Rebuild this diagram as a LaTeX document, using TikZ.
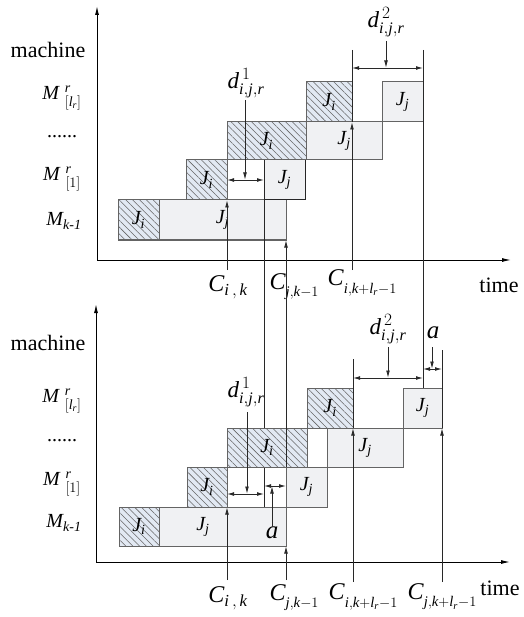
\documentclass[tikz,border=0pt]{standalone}
\usepackage{amsmath}
\usepackage{fontspec}
\setmainfont{Liberation Serif}
\usetikzlibrary{patterns.meta,arrows.meta}
\definecolor{hatchfill}{RGB}{226,233,243}
\definecolor{boxfill}{RGB}{240,241,243}
\definecolor{boxline}{RGB}{100,100,100}
\definecolor{vline}{RGB}{40,40,40}
\newcommand\JI{$\textit{J}_{\textit{i}}$}
\newcommand\JJ{$\textit{J}_{\textit{j}}$}
\newcommand\smallsub[1]{\raisebox{-0.3em}{\fontsize{21}{23}\selectfont$\scriptstyle #1$}}
\newcommand\jobbox[7]{\node[#1, minimum width={(#5-#3)*1pt}, minimum height={(#6-#4)*1pt}] (#2) at ({(#3+#5)/2},{(#4+#6)/2}) {#7};}
\tikzset{
  jb/.style={draw=boxline, line width=1pt, inner sep=0pt, outer sep=0pt, font=\fontsize{20}{23}\selectfont},
  hb/.style={jb, preaction={fill=hatchfill}, pattern={Lines[angle=-45,distance=4.8pt,line width=0.55pt]}, pattern color=black!60},
  gb/.style={jb, fill=boxfill},
  axis/.style={line width=1pt, -{Latex[length=9pt,width=4pt]}},
  vl/.style={draw=vline, line width=0.9pt},
  arr/.style={vl, -{Latex[length=7.5pt,width=3.8pt]}},
  dimline/.style={vl, {Latex[length=7pt,width=3.8pt]}-{Latex[length=7pt,width=3.8pt]}},
  lab/.style={inner sep=0pt, font=\fontsize{22}{25}\selectfont},
  dlab/.style={inner sep=0pt, font=\fontsize{23}{26}\selectfont},
  mlab/.style={inner sep=0pt, font=\fontsize{20}{23}\selectfont},
  clab/.style={inner sep=0pt, font=\fontsize{24}{27}\selectfont},
  alab/.style={inner sep=0pt, font=\fontsize{25}{28}\selectfont},
}
\begin{document}
\begin{tikzpicture}[x=1pt,y=-1pt]
\useasboundingbox (0,0) rectangle (523,617);

% ---------------- top chart ----------------
\coordinate (oT) at (97,260);
\coordinate (yT) at (97,6);
\coordinate (xT) at (511,260);
\draw[axis] (oT) -- (yT);
\draw[axis] (oT) -- (xT);

\jobbox{hb}{t1i}{118}{200}{159}{240}{\JI}
\jobbox{gb}{t1j}{159}{200}{286}{240}{\JJ}
\jobbox{hb}{t2i}{186}{160}{227}{200}{\JI}
\jobbox{gb,draw=black!85}{t2j}{264}{160}{305}{200}{\JJ}
\jobbox{hb}{t3i}{227}{122}{306}{160}{\JI}
\jobbox{gb}{t3j}{306}{122}{382}{160}{\JJ}
\jobbox{hb}{t4i}{306}{82}{352}{122}{\JI}
\jobbox{gb}{t4j}{382}{82}{423}{122}{\JJ}

\node[lab] (machT) at (48,50) {machine};
\node[mlab] (m4T) at (62,98) {$\textit{M}\;{}^{\textit{r}}_{[\textit{l}_{\textit{r}}]}$};
\node[mlab] (m3T) at (62,137) {......};
\node[mlab] (m2T) at (62,179) {$\textit{M}\;{}^{\textit{r}}_{[1]}$};
\node[mlab] (m1T) at (64,221) {$\textit{M}_{\textit{k-1}}$};
\node[lab] (timeT) at (499,285) {time};

\node[clab] (cikTl) at (228,287) {$\textit{C}_{\textit{i}\,,\,\textit{k}}$};
\node[clab] (cjkTl) at (294,287) {\textit{C}\smallsub{\textit{j},\textit{k}-1}};
\node[clab] (ciklTl) at (362,283) {\textit{C}\smallsub{\textit{i},\textit{k}+\textit{l}_{\textit{r}}-1}};

\coordinate (cikT) at (227,270);
\draw[arr] (cikT) -- (t2i.south east);

\node[dlab] (d1T) at (246,83) {$\textit{d}^{\,1}_{\textit{i},\textit{j},\textit{r}}$};
\coordinate (d1Ttop) at (245,100);
\coordinate (d1Tm) at (245,180);
\coordinate (d1Tl) at (227,180);
\coordinate (d1Tr) at (264,180);
\draw[arr] (d1Ttop) -- (d1Tm);
\draw[dimline] (d1Tl) -- (d1Tr);

\coordinate (L264) at (264,507);
\draw[vl] (t2j.north west) -- (L264);

\coordinate (c352top) at (352,50);
\coordinate (c352bot) at (352,270);
\draw[vl] (c352top) -- (t4i.south east);
\draw[arr] (c352bot) -- (t4i.south east);

\coordinate (c423top) at (423,50);
\coordinate (c423bot) at (423,388);
\draw[vl] (c423top) -- (c423bot);

\node[dlab] (d2T) at (386,22) {$\textit{d}^{\,2}_{\textit{i},\textit{j},\textit{r}}$};
\coordinate (d2Ttop) at (386,41);
\coordinate (d2Tm) at (386,68);
\coordinate (d2Tl) at (352,68);
\coordinate (d2Tr) at (423,68);
\draw[arr] (d2Ttop) -- (d2Tm);
\draw[dimline] (d2Tl) -- (d2Tr);

% ---------------- bottom chart ----------------
\coordinate (oB) at (96,562);
\coordinate (yB) at (96,304);
\coordinate (xB) at (510,562);
\draw[axis] (oB) -- (yB);
\draw[axis] (oB) -- (xB);

\jobbox{hb}{b1i}{119}{507}{159}{546}{\JI}
\jobbox{gb}{b1j}{159}{507}{286}{546}{}
\node[jb,draw=none] (b1jt) at (203,527) {\JJ};
\jobbox{hb}{b2i}{187}{467}{227}{507}{\JI}
\jobbox{gb}{b2j}{286}{467}{327}{507}{\JJ}
\jobbox{hb}{b3i}{227}{428}{307}{467}{\JI}
\jobbox{gb}{b3j}{327}{428}{403}{467}{\JJ}
\jobbox{hb}{b4i}{307}{388}{353}{428}{\JI}
\jobbox{gb}{b4j}{403}{388}{442}{428}{\JJ}

\node[lab] (machB) at (48,343) {machine};
\node[mlab] (m4B) at (62,401) {$\textit{M}\;{}^{\textit{r}}_{[\textit{l}_{\textit{r}}]}$};
\node[mlab] (m3B) at (62,441) {......};
\node[mlab] (m2B) at (62,484) {$\textit{M}\;{}^{\textit{r}}_{[1]}$};
\node[mlab] (m1B) at (64,523) {$\textit{M}_{\textit{k-1}}$};
\node[lab] (timeB) at (500,588) {time};

\node[clab] (cikBl) at (228,598) {$\textit{C}_{\textit{i}\,,\,\textit{k}}$};
\node[clab] (cjkBl) at (294,598) {\textit{C}\smallsub{\textit{j},\textit{k}-1}};
\node[clab] (ciklBl) at (363,597) {\textit{C}\smallsub{\textit{i},\textit{k}+\textit{l}_{\textit{r}}-1}};
\node[clab] (cjklBl) at (442,597) {\textit{C}\smallsub{\textit{j},\textit{k}+\textit{l}_{\textit{r}}-1}};

% long line from top chart to bottom chart at x=286
\draw[arr] (b2j.north west) -- (t1j.south east);

\coordinate (cikB) at (227,580);
\draw[arr] (cikB) -- (b2i.south east);

\node[dlab] (d1B) at (246,392) {$\textit{d}^{\,1}_{\textit{i},\textit{j},\textit{r}}$};
\coordinate (d1Btop) at (247,412);
\coordinate (d1Bm) at (247,494);
\coordinate (d1Bl) at (227,494);
\coordinate (d1Br) at (264,494);
\draw[arr] (d1Btop) -- (d1Bm);
\draw[dimline] (d1Bl) -- (d1Br);

\node[alab] (aB) at (272,533) {\textit{a}};
\coordinate (aBm) at (272,486);
\coordinate (aBl) at (264,486);
\coordinate (aBr) at (286,486);
\draw[arr] (aB.north) -- (aBm);
\draw[dimline] (aBl) -- (aBr);

\coordinate (cjkB) at (286,580);
\draw[arr] (cjkB) -- (b1j.south east);

\coordinate (c353top) at (353,359);
\coordinate (c353bot) at (353,582);
\draw[vl] (c353top) -- (b4i.south east);
\draw[arr] (c353bot) -- (b4i.south east);

\node[dlab] (d2B) at (388,329) {$\textit{d}^{\,2}_{\textit{i},\textit{j},\textit{r}}$};
\coordinate (d2Btop) at (388,347);
\coordinate (d2Bm) at (388,378);
\coordinate (d2Bl) at (353,378);
\coordinate (d2Br) at (423,378);
\draw[arr] (d2Btop) -- (d2Bm);
\draw[dimline] (d2Bl) -- (d2Br);

\node[alab] (aT) at (433,333) {\textit{a}};
\coordinate (aTs) at (432,347);
\coordinate (aTm) at (432,369);
\coordinate (aTl) at (423,369);
\coordinate (aTr) at (442,369);
\draw[arr] (aTs) -- (aTm);
\draw[dimline] (aTl) -- (aTr);

\coordinate (c442top) at (442,350);
\coordinate (c442bot) at (442,582);
\draw[vl] (c442top) -- (b4j.south east);
\draw[arr] (c442bot) -- (b4j.south east);
\end{tikzpicture}
\end{document}
